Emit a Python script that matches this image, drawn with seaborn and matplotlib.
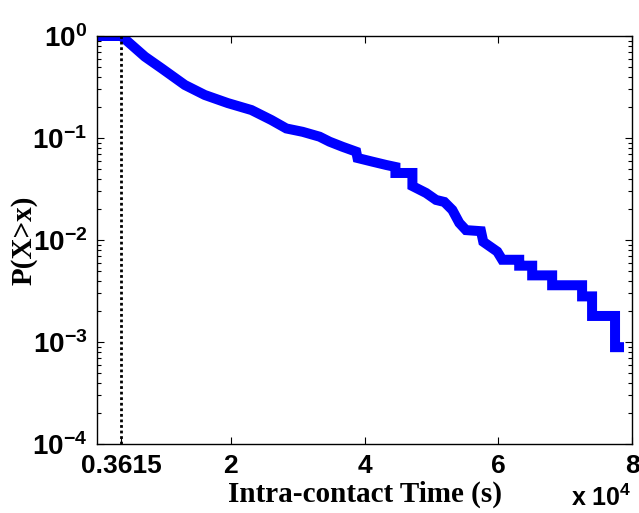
import matplotlib
matplotlib.use("Agg")
import matplotlib.pyplot as plt
import seaborn as sns
import numpy as np
import pandas as pd
from matplotlib.ticker import FixedLocator, FixedFormatter, LogLocator, NullFormatter

# CCDF of intra-contact time
time_s = [0, 3650, 7164, 9657, 13134, 16119, 19552, 23090, 26075, 28313, 30746,
          33284, 34776, 36716, 38761, 38955, 41194, 43239, 44626, 44626, 47164,
          47164, 49209, 50701, 51940, 53134, 54179, 55179, 57418, 57761, 59851,
          60597, 63134, 63134, 65075, 65075, 68060, 68060, 72537, 72537, 74030,
          74030, 77463, 77463, 78806]
ccdf = [1.0, 1.0, 0.627, 0.482, 0.331, 0.264, 0.220, 0.188, 0.150, 0.124, 0.115,
        0.103, 0.092, 0.082, 0.0734, 0.0637, 0.0586, 0.0544, 0.0520, 0.0454, 0.0454,
        0.0338, 0.0289, 0.0247, 0.0236, 0.0197, 0.0147, 0.0125, 0.0122, 0.0096, 0.0077,
        0.0064, 0.0064, 0.0056, 0.0056, 0.0045, 0.0045, 0.0036, 0.0036, 0.0028, 0.0028,
        0.0018, 0.0018, 0.00089, 0.00089]

threshold = 3615
x_ticks = [3615, 20000, 40000, 60000, 80000]
x_tick_labels = ["0.3615", "2", "4", "6", "8"]
y_ticks = [1e-4, 1e-3, 1e-2, 1e-1, 1e0]
y_tick_labels = ["$10^{-4}$", "$10^{-3}$", "$10^{-2}$", "$10^{-1}$", "$10^{0}$"]

sns.set_style("ticks")
plt.rcParams["font.family"] = ["Liberation Sans", "DejaVu Sans"]
plt.rcParams["mathtext.default"] = "regular"
plt.rcParams["text.color"] = "black"
plt.rcParams["axes.labelcolor"] = "black"
plt.rcParams["xtick.color"] = "black"
plt.rcParams["ytick.color"] = "black"

fig = plt.figure(figsize=(6.39, 5.13), dpi=100)
ax = fig.add_axes([97/639, 69/513, 535/639, 408/513])

df = pd.DataFrame({"t": time_s, "p": ccdf})
sns.lineplot(data=df, x="t", y="p", ax=ax, color="#0000ff", linewidth=7.2,
             estimator=None, sort=False, solid_joinstyle="miter",
             solid_capstyle="butt")
ax.plot([threshold, threshold], [1e-4, 1.0], color="black", linestyle=(0, (1, 1)),
        linewidth=2.0)

ax.set_yscale("log")
ax.set_xlim(0, 80000)
ax.set_ylim(1e-4, 1.0)

ax.xaxis.set_major_locator(FixedLocator(x_ticks))
ax.xaxis.set_major_formatter(FixedFormatter(x_tick_labels))
ax.yaxis.set_major_locator(FixedLocator(y_ticks))
ax.yaxis.set_major_formatter(FixedFormatter(y_tick_labels))
ax.yaxis.set_minor_locator(LogLocator(base=10, subs=np.arange(2, 10)))
ax.yaxis.set_minor_formatter(NullFormatter())

for sp in ax.spines.values():
    sp.set_visible(True)
    sp.set_linewidth(1.0)
    sp.set_color("black")

ax.tick_params(axis="both", which="both", direction="in", top=True, right=True,
               color="black", labelcolor="black")
ax.tick_params(axis="both", which="major", length=5, width=0.8)
ax.tick_params(axis="y", which="minor", length=3, width=0.8)
ax.tick_params(axis="x", which="major", labelsize=19, pad=7)
ax.tick_params(axis="y", which="major", labelsize=20, pad=7)
for lab in ax.get_xticklabels() + ax.get_yticklabels():
    lab.set_fontweight("bold")

ax.set_xlabel("Intra-contact Time (s)", fontsize=21, fontweight="bold",
              family=["Liberation Serif"], labelpad=2, color="black")
ax.set_ylabel("P(X>x)", fontsize=21, fontweight="bold",
              family=["Liberation Serif"], labelpad=-4, color="black")

fig.text(632/639, 0.004, "x 10$^{4}$", ha="right", va="bottom", fontsize=18,
         fontweight="bold", color="black")

fig.savefig("out.png", dpi=100, facecolor="white")
